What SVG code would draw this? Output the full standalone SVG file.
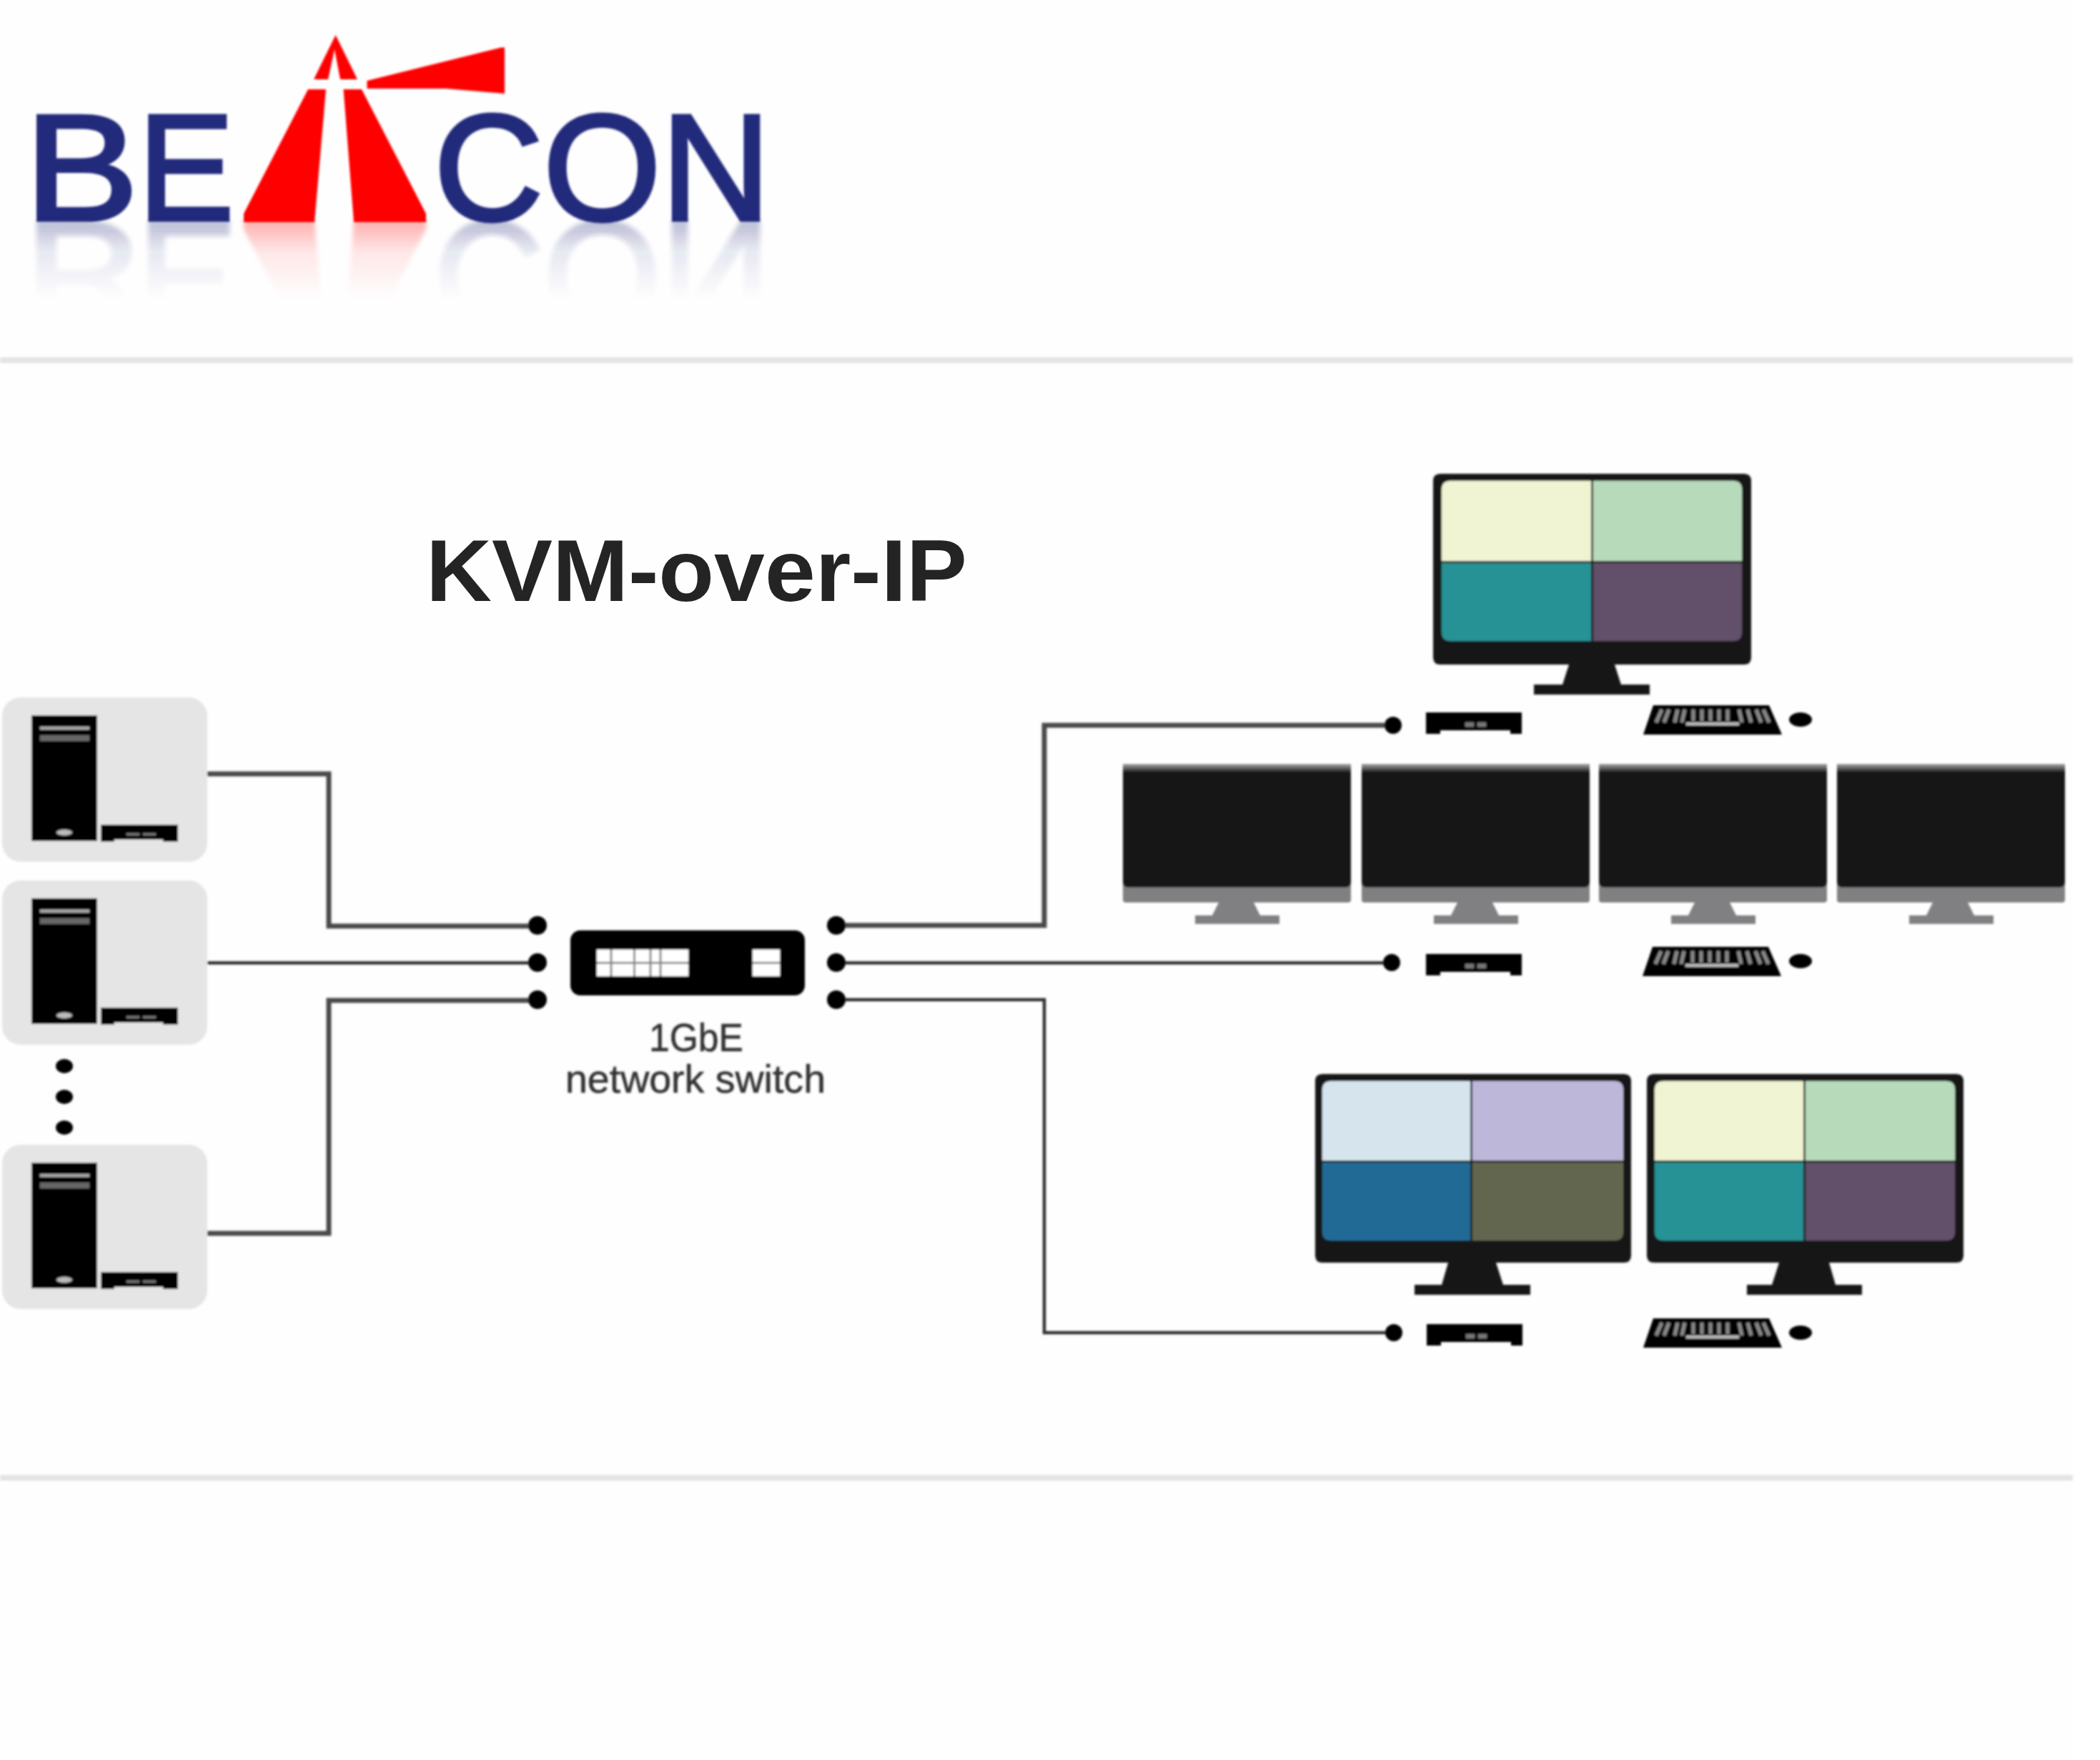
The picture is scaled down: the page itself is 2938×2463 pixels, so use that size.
<svg xmlns="http://www.w3.org/2000/svg" width="2938" height="2463" viewBox="0 0 2938 2463">
<style>
.blk{fill:#000}.dk{fill:#181818}.g{fill:#808082}
.conn{fill:none;stroke:#2e2e2e;stroke-width:4.5}
.wide{stroke:#4a4a4a;stroke-width:7}
.t{font-family:"Liberation Sans",Arial,sans-serif}
.logo{font-size:212px;fill:#232a7c;stroke:#232a7c;stroke-width:5}
.lab{font-size:55px;fill:#333;stroke:#333;stroke-width:.6;text-anchor:middle}
.key{stroke:#8a8a8a;stroke-width:5;fill:none}
.hr{fill:#e4e4e4}
</style>
<defs>
<filter id="b1" x="-5%" y="-5%" width="110%" height="110%"><feGaussianBlur stdDeviation="1.8"/></filter>
<filter id="b2" x="-5%" y="-5%" width="110%" height="110%"><feGaussianBlur stdDeviation="3"/></filter>
<linearGradient id="fade" x1="0" y1="308" x2="0" y2="420" gradientUnits="userSpaceOnUse"><stop offset="0" stop-color="#fff" stop-opacity=".32"/><stop offset=".4" stop-color="#fff" stop-opacity=".09"/><stop offset="1" stop-color="#fff" stop-opacity="0"/></linearGradient>
<mask id="rm" maskUnits="userSpaceOnUse" x="0" y="300" width="1150" height="140"><rect x="0" y="300" width="1150" height="140" fill="url(#fade)"/></mask>
<linearGradient id="topfade" x1="0" y1="0" x2="0" y2="1"><stop offset="0" stop-color="#a8a8a8"/><stop offset="1" stop-color="#181818"/></linearGradient>
<g id="logomark">
<text class="t logo" x="30.300" y="308" transform="scale(1.13 1)">B</text>
<text class="t logo" x="203.500" y="308" transform="scale(.95 1)">E</text>
<text class="t logo" x="607" y="308">CON</text>
<path fill="#fe0000" d="M341 299L431 125H456L440 311H341ZM480.500 125H506L596 299V311H495Z"/>
</g>
<g id="tx"><path class="blk" d="M0 0H134V30H118V25H20V30H0Z"/><rect x="55" y="14" width="12" height="6" fill="#777"/><rect x="72" y="14" width="12" height="6" fill="#777"/></g>
<g id="kb"><path class="blk" d="M14 0H176L194 41H0Z"/><path class="key" d="M26 6L18 24M36 6L29 24M48 6L44 24M58 6L54 24M70 6V22M82 6V22M94 6V22M106 6V22M118 6V22M134 6L138 24M146 6L151 24M158 6L165 24M168 6L176 24"/><rect x="60" y="24" width="74" height="4" fill="#bbb"/></g>
<g id="tower"><rect class="blk" x="0" y="0" width="92" height="176"/><rect x="12" y="16" width="69" height="4" fill="#aaa"/><rect x="12" y="28" width="69" height="8" fill="#666"/><ellipse cx="46" cy="164" rx="11" ry="4" fill="#bbb"/></g>
<g id="pc"><rect x="3" y="0" width="287" height="230" rx="26" fill="#e5e5e5"/><use href="#tower" x="44" y="25"/><path class="blk" d="M141 178H249V202H228V199H160V202H141Z"/><rect x="177" y="190" width="18" height="3" fill="#777"/><rect x="200" y="190" width="18" height="3" fill="#777"/></g>
<g id="grayMon"><rect x="0" y="12" width="319" height="182" rx="4" class="g"/><rect x="0" y="0" width="319" height="12" fill="url(#topfade)"/><path class="dk" d="M0 12H319V165Q319 173 311 173H8Q0 173 0 165Z"/><path class="g" d="M134 194H183L192 212H219V224H101V212H125Z"/></g>
</defs>
<rect width="2938" height="2463" fill="#fff"/>
<rect width="2900" height="2463" fill="#fefefe"/>
<g id="logo">
<g filter="url(#b1)">
<use href="#logomark"/>
<path fill="#fe0000" fill-rule="evenodd" d="M439 111L469.500 49L500 111ZM468 69L459 111H476Z"/>
<path fill="#fe0000" d="M513.500 113L701 66.500H706V131L624 124H513.500Z"/>
</g>
<g filter="url(#b2)"><g mask="url(#rm)"><use href="#logomark" transform="matrix(1 0 0 -1 0 620)"/></g></g>
</g>
<g filter="url(#b1)">
<rect id="rule-top" class="hr" x="0" y="500" width="2900" height="8"/>
<rect id="rule-bottom" class="hr" x="0" y="2064" width="2900" height="8"/>

<g id="connectors">
<path class="conn wide" d="M290 1083H460V1296H752"/>
<path class="conn" d="M290 1347.500H752"/>
<path class="conn wide" d="M290 1726H460V1400H752"/>
<path class="conn wide" d="M1170 1295H1461V1015H1949"/>
<path class="conn" d="M1170 1347.500H1946"/>
<path class="conn" d="M1170 1399H1461V1865H1950"/>
<g class="blk">
<circle cx="752" cy="1295" r="13"/><circle cx="752" cy="1347" r="13"/><circle cx="752" cy="1399" r="13"/>
<circle cx="1170" cy="1295" r="13"/><circle cx="1170" cy="1347" r="13"/><circle cx="1170" cy="1399" r="13"/>
<circle cx="1949" cy="1015" r="12"/><circle cx="1947" cy="1347" r="12"/><circle cx="1950" cy="1865" r="12"/>
</g>
</g>

<g id="server-1"><use href="#pc" y="976"/></g>
<g id="server-2"><use href="#pc" y="1232"/></g>
<g id="server-3"><use href="#pc" y="1602"/></g>
<g id="more-dots" class="blk"><ellipse cx="90" cy="1492" rx="12" ry="10"/><ellipse cx="90" cy="1535" rx="12" ry="10"/><ellipse cx="90" cy="1578" rx="12" ry="10"/></g>

<g id="switch">
<rect class="blk" x="798" y="1302" width="328" height="91" rx="14"/>
<rect x="835" y="1329" width="128" height="37" fill="#fff"/>
<rect x="1053" y="1329" width="38" height="37" fill="#fff"/>
<path d="M855 1329V1366M887.500 1329V1366M910 1329V1366M924 1329V1366M835 1347.500H963M1053 1347.500H1091" stroke="#888" stroke-width="3" fill="none"/>
</g>
<g id="switch-label" class="t lab"><text x="974" y="1471" textLength="132" lengthAdjust="spacingAndGlyphs">1GbE</text><text x="973" y="1529" textLength="364" lengthAdjust="spacingAndGlyphs">network switch</text></g>

<g id="wall-top">
<path class="dk" d="M2005 673Q2005 663 2015 663H2440Q2450 663 2450 673V920Q2450 930 2440 930H2259L2268 958H2308V972H2146V958H2186L2195 930H2015Q2005 930 2005 920Z"/>
<path fill="#f0f4d2" d="M2226 673V785H2017V685Q2017 673 2029 673Z"/>
<path fill="#b7dabb" d="M2229 673H2425Q2437 673 2437 685V785H2229Z"/>
<path fill="#269295" d="M2226 788V897H2029Q2017 897 2017 885V788Z"/>
<path fill="#624f69" d="M2229 788H2437V885Q2437 897 2425 897H2229Z"/>
</g>
<use id="rx-top" href="#tx" x="1995" y="997"/>
<use id="kb-top" href="#kb" x="2299" y="987"/>
<ellipse id="mouse-top" class="blk" cx="2519" cy="1007" rx="16" ry="10"/>

<g id="wall-mid">
<use href="#grayMon" x="1571" y="1069"/>
<use href="#grayMon" x="1905" y="1069"/>
<use href="#grayMon" x="2237" y="1069"/>
<use href="#grayMon" x="2570" y="1069"/>
</g>
<use id="rx-mid" href="#tx" x="1995" y="1335"/>
<use id="kb-mid" href="#kb" x="2298" y="1325"/>
<ellipse id="mouse-mid" class="blk" cx="2519" cy="1345" rx="16" ry="10"/>

<g id="wall-bottom-left">
<path class="dk" d="M1840 1513Q1840 1503 1850 1503H2272Q2282 1503 2282 1513V1757Q2282 1767 2272 1767H2093L2103 1798H2141V1812H1979V1798H2017L2026 1767H1850Q1840 1767 1840 1757Z"/>
<path fill="#d6e5ed" d="M2057 1513V1624H1850V1525Q1850 1513 1862 1513Z"/>
<path fill="#bdb8da" d="M2060 1513H2259Q2271 1513 2271 1525V1624H2060Z"/>
<path fill="#226a96" d="M2057 1627V1736H1862Q1850 1736 1850 1724V1627Z"/>
<path fill="#62664f" d="M2060 1627H2271V1724Q2271 1736 2259 1736H2060Z"/>
</g>
<g id="wall-bottom-right">
<path class="dk" d="M2304 1513Q2304 1503 2314 1503H2737Q2747 1503 2747 1513V1757Q2747 1767 2737 1767H2559L2568 1798H2605V1812H2444V1798H2479L2489 1767H2314Q2304 1767 2304 1757Z"/>
<path fill="#f0f4d2" d="M2523 1513V1624H2315V1525Q2315 1513 2327 1513Z"/>
<path fill="#b7dabb" d="M2526 1513H2723Q2735 1513 2735 1525V1624H2526Z"/>
<path fill="#269295" d="M2523 1627V1736H2327Q2315 1736 2315 1724V1627Z"/>
<path fill="#624f69" d="M2526 1627H2735V1724Q2735 1736 2723 1736H2526Z"/>
</g>
<use id="rx-bottom" href="#tx" x="1996" y="1853"/>
<use id="kb-bottom" href="#kb" x="2299" y="1845"/>
<ellipse id="mouse-bottom" class="blk" cx="2519" cy="1865" rx="16" ry="10"/>
</g>
<text id="title" class="t" x="596" y="841" font-size="122" font-weight="700" fill="#242424" textLength="757" lengthAdjust="spacingAndGlyphs">KVM-over-IP</text>
</svg>
